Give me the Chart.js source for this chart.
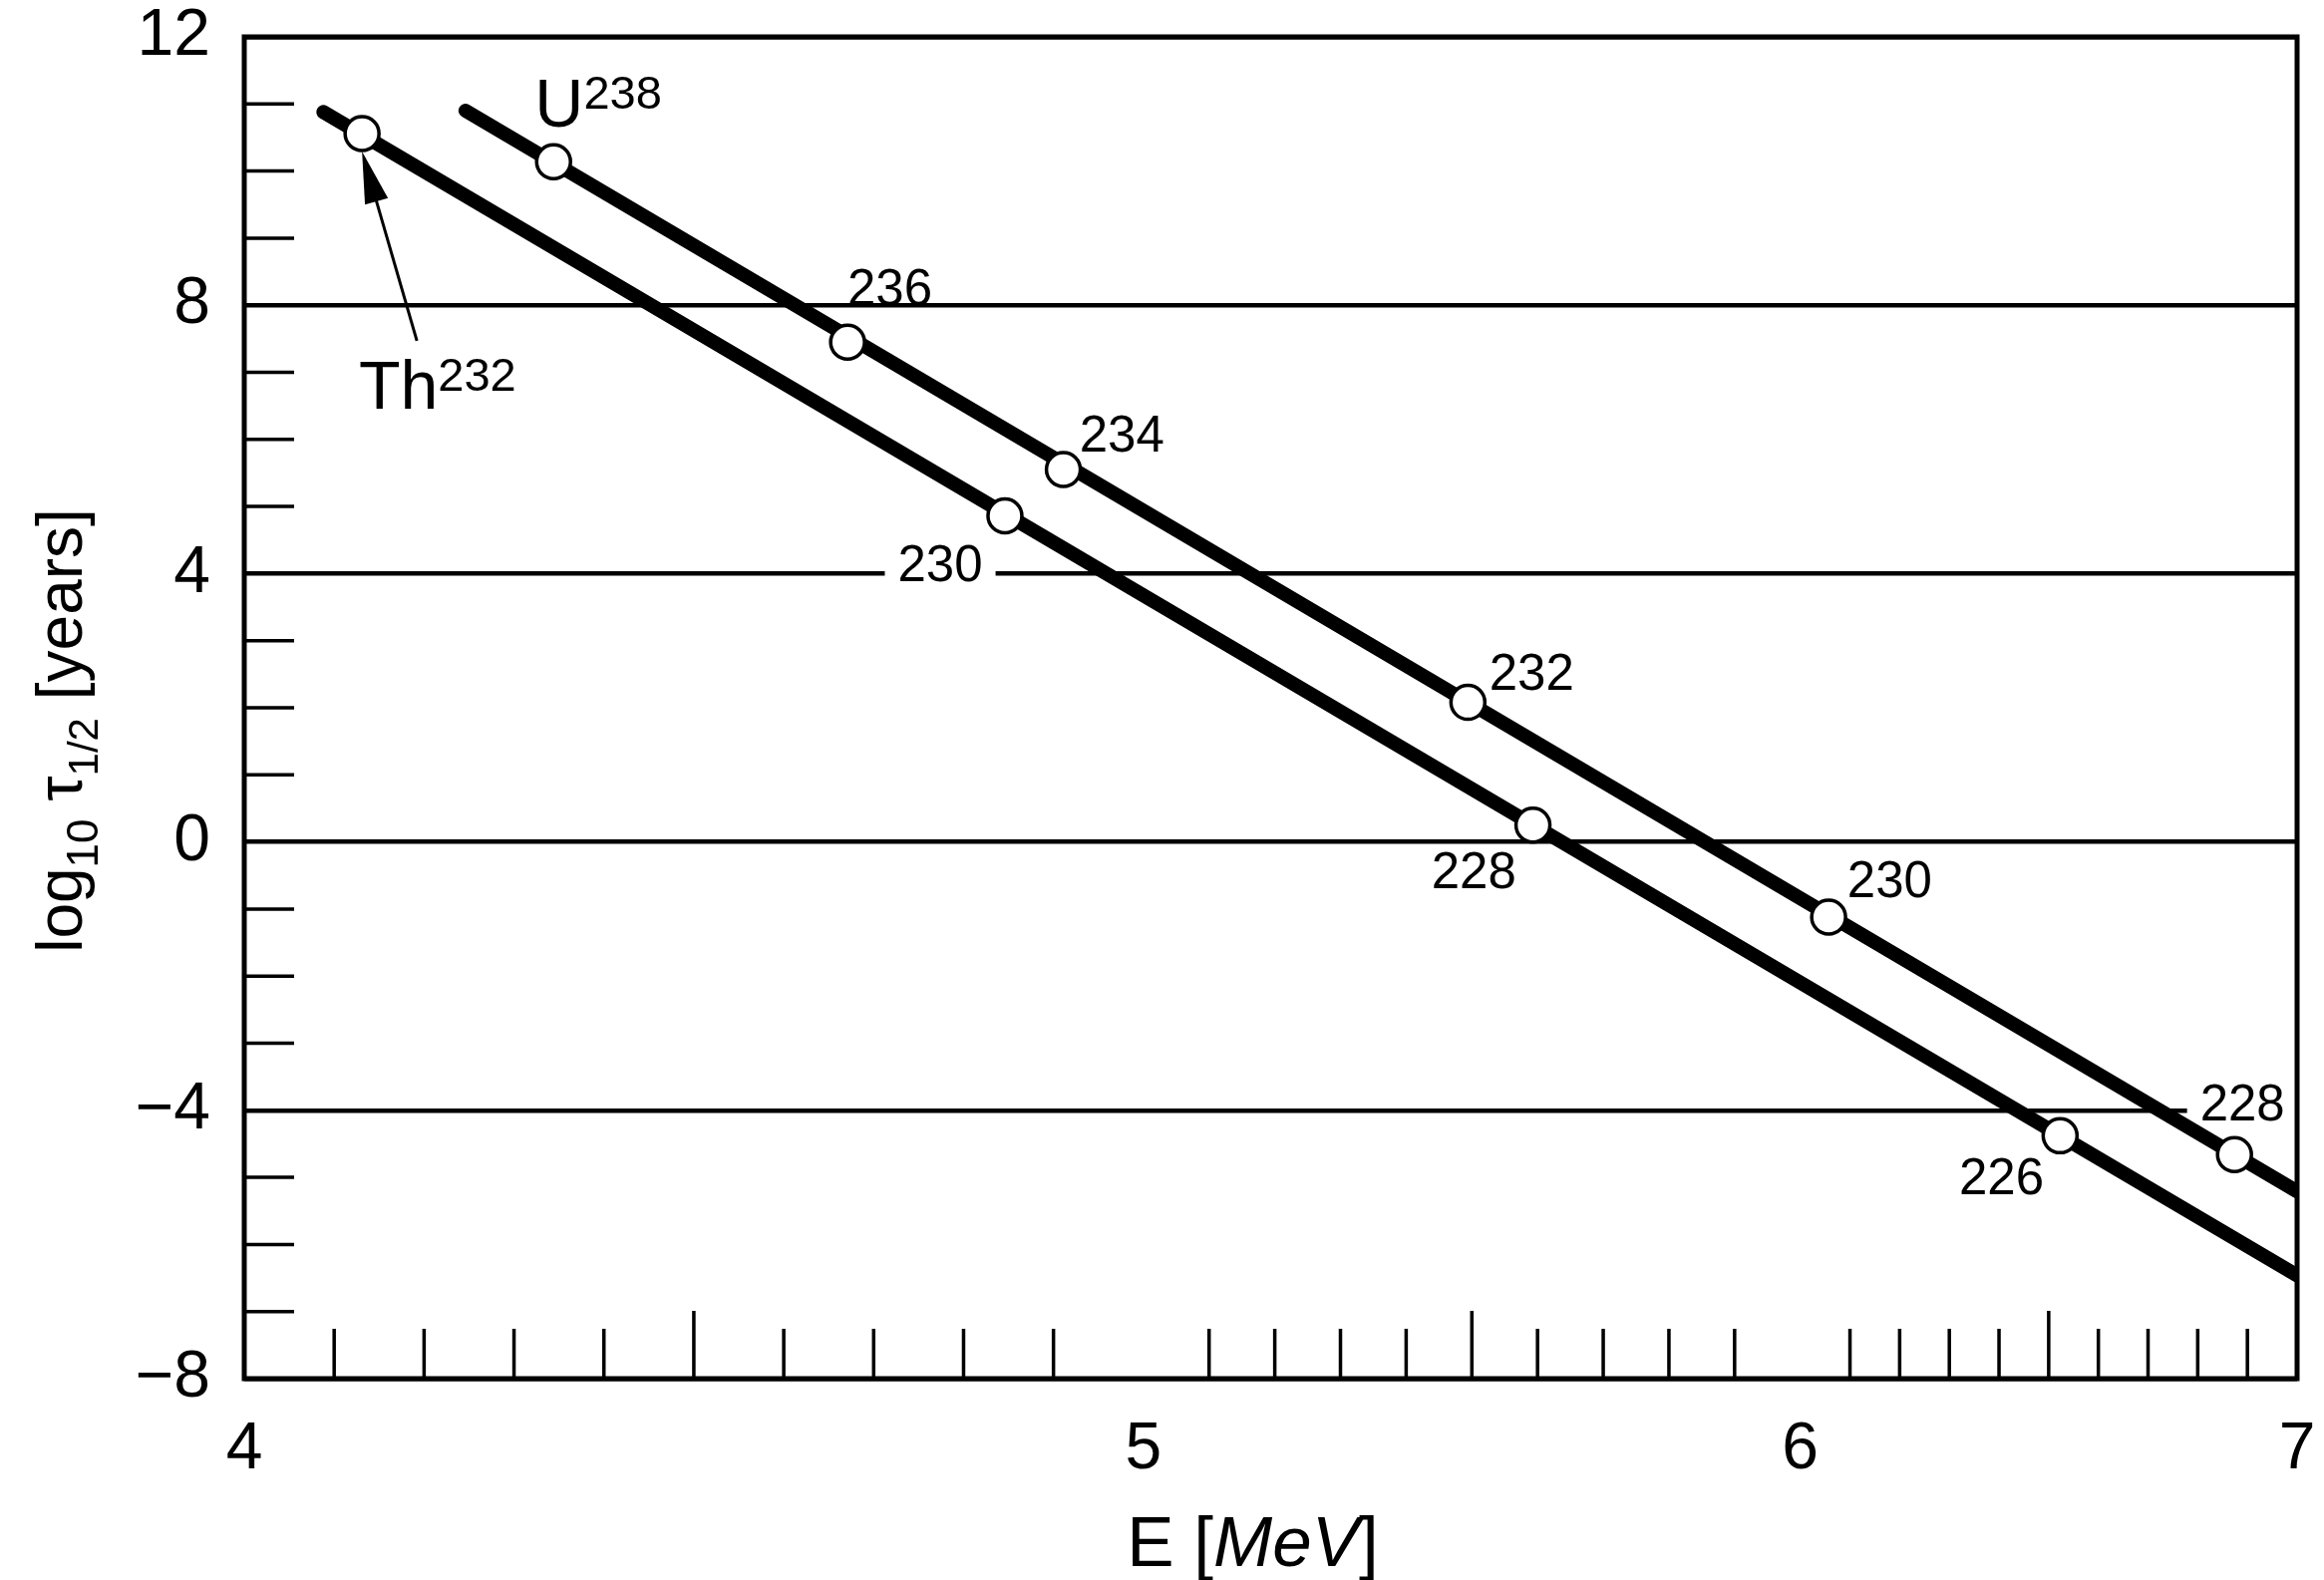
<!DOCTYPE html>
<html>
<head>
<meta charset="utf-8">
<script src="https://cdn.jsdelivr.net/npm/chart.js@4.4.0/dist/chart.umd.min.js"></script>
<style>
  html, body { margin: 0; padding: 0; background: #fff; }
  canvas { display: block; }
</style>
</head>
<body>
<canvas id="chart" width="2331" height="1585"></canvas>
<script>
const FAMILY = '"Liberation Sans", Arial, Helvetica, sans-serif';

// alpha energy (MeV) vs log10 half-life (years)
const thoriumEnergy = [4.131, 4.846, 5.593, 6.523];
const thoriumLogT = [10.56, 4.86, 0.25, -4.38];

const uraniumEnergy = [4.344, 4.671, 4.911, 5.494, 6.057, 6.874];
const uraniumLogT = [10.14, 7.45, 5.55, 2.08, -1.12, -4.66];

// the two straight lines, end points as drawn
const thoriumLineE = [4.088, 7];
const thoriumLineT = [10.88, -6.46];
const uraniumLineE = [4.246, 7];
const uraniumLineT = [10.90, -5.21];

// axis graduation: E marks are not evenly spaced (roughly E^-1/2)
const eMarks = [4, 5, 6, 7];
const eMarkFraction = [0, 0.438, 0.758, 1];

const xMinorTicks = [4.1, 4.2, 4.3, 4.4, 4.6, 4.7, 4.8, 4.9,
                     5.1, 5.2, 5.3, 5.4, 5.6, 5.7, 5.8, 5.9,
                     6.1, 6.2, 6.3, 6.4, 6.6, 6.7, 6.8, 6.9];
const xHalfTicks = [4.5, 5.5, 6.5];
const yMinorTicks = [11, 10, 9, 7, 6, 5, 3, 2, 1, -1, -2, -3, -5, -6, -7];

// mass number labels (clear = white patch over the grid line)
const massLabels = [
  { text: '236', e: 4.718, t: 8.27 },
  { text: '234', e: 4.976, t: 6.09 },
  { text: '230', e: 4.774, t: 4.155, clear: true },
  { text: '232', e: 5.591, t: 2.53 },
  { text: '228', e: 5.503, t: -0.42 },
  { text: '230', e: 6.18, t: -0.56 },
  { text: '226', e: 6.405, t: -4.98 },
  { text: '228', e: 6.89, t: -3.89, clear: true }
];

// piecewise scale through the E marks
function eToFraction(v) {
  for (let i = 1; i < eMarks.length; i++) {
    if (v <= eMarks[i] || i === eMarks.length - 1) {
      const f = (v - eMarks[i - 1]) / (eMarks[i] - eMarks[i - 1]);
      return eMarkFraction[i - 1] + f * (eMarkFraction[i] - eMarkFraction[i - 1]);
    }
  }
}
function fractionToE(d) {
  for (let i = 1; i < eMarks.length; i++) {
    if (d <= eMarkFraction[i] || i === eMarks.length - 1) {
      const f = (d - eMarkFraction[i - 1]) / (eMarkFraction[i] - eMarkFraction[i - 1]);
      return eMarks[i - 1] + f * (eMarks[i] - eMarks[i - 1]);
    }
  }
}

class EnergyScale extends Chart.LinearScale {
  getPixelForValue(value) {
    if (value === null || value === undefined) return NaN;
    return this.getPixelForDecimal(eToFraction(value));
  }
  getValueForPixel(pixel) {
    return fractionToE(this.getDecimalForPixel(pixel));
  }
}
EnergyScale.id = 'energy';
EnergyScale.defaults = Chart.LinearScale.defaults;
Chart.register(EnergyScale);

function toPoints(xs, ys) {
  return xs.map((x, i) => ({ x: x, y: ys[i] }));
}

function drawPieces(ctx, pieces, startX, baseY) {
  let x = startX;
  pieces.forEach(p => {
    ctx.font = (p.italic ? 'italic ' : '') + p.size + 'px ' + FAMILY;
    ctx.fillText(p.text, x, baseY + (p.dy || 0));
    x += ctx.measureText(p.text).width;
  });
}
function piecesWidth(ctx, pieces) {
  let w = 0;
  pieces.forEach(p => {
    ctx.font = (p.italic ? 'italic ' : '') + p.size + 'px ' + FAMILY;
    w += ctx.measureText(p.text).width;
  });
  return w;
}

const drawing = {
  id: 'drawing',
  beforeDatasetsDraw(chart) {
    const ctx = chart.ctx;
    const sx = chart.scales.x, sy = chart.scales.y;
    ctx.save();
    ctx.font = '51px ' + FAMILY;
    ctx.fillStyle = '#fff';
    massLabels.filter(l => l.clear).forEach(l => {
      const w = ctx.measureText(l.text).width + 26;
      ctx.fillRect(sx.getPixelForValue(l.e) - w / 2, sy.getPixelForValue(l.t) - 20, w, 40);
    });
    ctx.restore();
  },
  afterDatasetsDraw(chart) {
    const ctx = chart.ctx;
    const a = chart.chartArea;
    const sx = chart.scales.x, sy = chart.scales.y;
    ctx.save();
    ctx.strokeStyle = '#000';
    ctx.fillStyle = '#000';

    // frame
    ctx.lineWidth = 5;
    ctx.strokeRect(a.left, a.top, a.right - a.left, a.bottom - a.top);

    // inner minor ticks
    ctx.lineWidth = 3.5;
    ctx.beginPath();
    xMinorTicks.forEach(e => {
      const x = sx.getPixelForValue(e);
      ctx.moveTo(x, a.bottom); ctx.lineTo(x, a.bottom - 50);
    });
    xHalfTicks.forEach(e => {
      const x = sx.getPixelForValue(e);
      ctx.moveTo(x, a.bottom); ctx.lineTo(x, a.bottom - 68);
    });
    yMinorTicks.forEach(t => {
      const y = sy.getPixelForValue(t);
      ctx.moveTo(a.left, y); ctx.lineTo(a.left + 50, y);
    });
    ctx.stroke();

    // mass number labels
    ctx.font = '51px ' + FAMILY;
    ctx.textAlign = 'center';
    ctx.textBaseline = 'alphabetic';
    massLabels.forEach(l => {
      ctx.fillText(l.text, sx.getPixelForValue(l.e), sy.getPixelForValue(l.t) + 18);
    });

    // element labels with superscripts
    ctx.textAlign = 'left';
    drawPieces(ctx, [{ text: 'U', size: 68 }, { text: '238', size: 47, dy: -18 }],
      sx.getPixelForValue(4.323), sy.getPixelForValue(10.66));
    drawPieces(ctx, [{ text: 'Th', size: 68 }, { text: '232', size: 47, dy: -18 }],
      sx.getPixelForValue(4.1275), sy.getPixelForValue(6.46));

    // arrow from Th label to its point
    const x0 = sx.getPixelForValue(4.192), y0 = sy.getPixelForValue(7.47);
    const x1 = sx.getPixelForValue(4.131), y1 = sy.getPixelForValue(10.29);
    const ang = Math.atan2(y1 - y0, x1 - x0);
    ctx.lineWidth = 3;
    ctx.beginPath();
    ctx.moveTo(x0, y0);
    ctx.lineTo(x1 - 30 * Math.cos(ang), y1 - 30 * Math.sin(ang));
    ctx.stroke();
    ctx.beginPath();
    ctx.moveTo(x1, y1);
    ctx.lineTo(x1 - 52 * Math.cos(ang) + 12 * Math.sin(ang), y1 - 52 * Math.sin(ang) - 12 * Math.cos(ang));
    ctx.lineTo(x1 - 52 * Math.cos(ang) - 12 * Math.sin(ang), y1 - 52 * Math.sin(ang) + 12 * Math.cos(ang));
    ctx.closePath();
    ctx.fill();

    // x title
    const xt = [{ text: 'E [', size: 71 }, { text: 'MeV', size: 71, italic: true }, { text: ']', size: 71 }];
    const xw = piecesWidth(ctx, xt);
    drawPieces(ctx, xt, (a.left + a.right) / 2 - 18 - xw / 2, 1571);

    // y title
    const yt = [
      { text: 'log', size: 64 }, { text: '10', size: 44, dy: 16 },
      { text: ' \u03c4', size: 64 }, { text: '1/2', size: 42, dy: 16 },
      { text: ' [years]', size: 64 }
    ];
    const yw = piecesWidth(ctx, yt);
    ctx.translate(82, (a.top + a.bottom) / 2 + 23);
    ctx.rotate(-Math.PI / 2);
    drawPieces(ctx, yt, -yw / 2, 0);

    ctx.restore();
  }
};

Chart.defaults.font.family = FAMILY;
Chart.defaults.color = '#000';

new Chart(document.getElementById('chart'), {
  type: 'scatter',
  data: {
    datasets: [
      {
        data: toPoints(thoriumEnergy, thoriumLogT),
        pointRadius: 17, pointBorderWidth: 3.5,
        pointBackgroundColor: '#fff', pointBorderColor: '#000', order: 1
      },
      {
        data: toPoints(uraniumEnergy, uraniumLogT),
        pointRadius: 17, pointBorderWidth: 3.5,
        pointBackgroundColor: '#fff', pointBorderColor: '#000', order: 1
      },
      {
        data: toPoints(thoriumLineE, thoriumLineT), showLine: true,
        borderColor: '#000', borderWidth: 14, borderCapStyle: 'round',
        pointRadius: 0, clip: 0, order: 2
      },
      {
        data: toPoints(uraniumLineE, uraniumLineT), showLine: true,
        borderColor: '#000', borderWidth: 14, borderCapStyle: 'round',
        pointRadius: 0, clip: 0, order: 2
      }
    ]
  },
  options: {
    responsive: false,
    animation: false,
    devicePixelRatio: 1,
    events: [],
    layout: { padding: { top: 37, right: 27, left: 0, bottom: 0 } },
    plugins: { legend: { display: false }, tooltip: { enabled: false } },
    scales: {
      x: {
        type: 'energy',
        min: 4, max: 7,
        afterBuildTicks: s => { s.ticks = eMarks.map(v => ({ value: v })); },
        afterFit: s => { s.height = 202; s.paddingLeft = 0; s.paddingRight = 0; },
        grid: { display: false },
        border: { display: false },
        ticks: { font: { size: 66 }, padding: 24, callback: v => String(v) }
      },
      y: {
        min: -8, max: 12,
        afterFit: s => { s.width = 245; s.paddingTop = 0; s.paddingBottom = 0; },
        grid: { color: '#000', lineWidth: 4.5, drawTicks: false },
        border: { display: false },
        ticks: {
          stepSize: 4, font: { size: 66 }, padding: 34,
          callback: v => v < 0 ? '\u2212' + (-v) : String(v)
        }
      }
    }
  },
  plugins: [drawing]
});
</script>
</body>
</html>
